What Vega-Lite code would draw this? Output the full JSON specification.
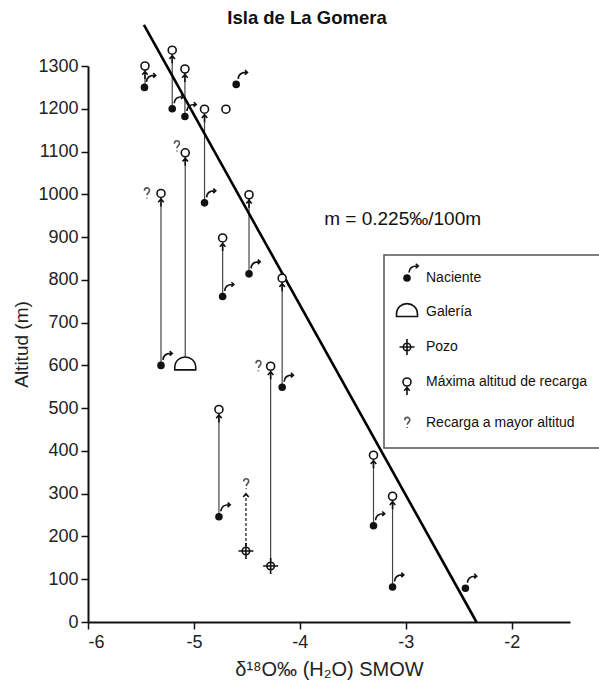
{
  "$schema": "https://vega.github.io/schema/vega-lite/v6.json",
  "autosize": {"type": "none"},
  "padding": {"left": 88, "top": 66, "right": 29, "bottom": 60},
  "width": 482,
  "height": 556,
  "title": {"text": "Isla de La Gomera", "fontSize": 18.5, "fontWeight": "bold", "font": "Liberation Sans", "color": "#111", "anchor": "middle", "dx": -22, "offset": -8},
  "datasets": {
    "puntos": [
      {"tipo": "Naciente", "d18O": -5.467, "altitud": 1250},
      {"tipo": "Naciente", "d18O": -5.205, "altitud": 1200},
      {"tipo": "Naciente", "d18O": -5.085, "altitud": 1182},
      {"tipo": "Naciente", "d18O": -4.601, "altitud": 1257},
      {"tipo": "Naciente", "d18O": -4.900, "altitud": 980},
      {"tipo": "Naciente", "d18O": -5.311, "altitud": 600},
      {"tipo": "Naciente", "d18O": -4.729, "altitud": 761},
      {"tipo": "Naciente", "d18O": -4.480, "altitud": 814},
      {"tipo": "Naciente", "d18O": -4.167, "altitud": 549},
      {"tipo": "Naciente", "d18O": -4.764, "altitud": 246},
      {"tipo": "Naciente", "d18O": -3.305, "altitud": 225},
      {"tipo": "Naciente", "d18O": -3.125, "altitud": 82},
      {"tipo": "Naciente", "d18O": -2.437, "altitud": 79},
      {"tipo": "Galería", "d18O": -5.082, "altitud": 600},
      {"tipo": "Pozo", "d18O": -4.509, "altitud": 166},
      {"tipo": "Pozo", "d18O": -4.276, "altitud": 131},
      {"tipo": "Máxima altitud de recarga", "d18O": -5.462, "altitud": 1300},
      {"tipo": "Máxima altitud de recarga", "d18O": -5.205, "altitud": 1337},
      {"tipo": "Máxima altitud de recarga", "d18O": -5.085, "altitud": 1293},
      {"tipo": "Máxima altitud de recarga", "d18O": -4.900, "altitud": 1199},
      {"tipo": "Máxima altitud de recarga", "d18O": -5.082, "altitud": 1097},
      {"tipo": "Máxima altitud de recarga", "d18O": -5.311, "altitud": 1002},
      {"tipo": "Máxima altitud de recarga", "d18O": -4.729, "altitud": 898},
      {"tipo": "Máxima altitud de recarga", "d18O": -4.480, "altitud": 999},
      {"tipo": "Máxima altitud de recarga", "d18O": -4.167, "altitud": 804},
      {"tipo": "Máxima altitud de recarga", "d18O": -4.276, "altitud": 598},
      {"tipo": "Máxima altitud de recarga", "d18O": -4.764, "altitud": 497},
      {"tipo": "Máxima altitud de recarga", "d18O": -3.305, "altitud": 390},
      {"tipo": "Máxima altitud de recarga", "d18O": -3.125, "altitud": 294},
      {"tipo": "Máxima (sin flecha)", "d18O": -4.698, "altitud": 1199},
      {"tipo": "Flecha", "d18O": -4.509, "altitud": 300},
      {"tipo": "Recarga a mayor altitud", "d18O": -5.446, "altitud": 1002},
      {"tipo": "Recarga a mayor altitud", "d18O": -5.163, "altitud": 1112},
      {"tipo": "Recarga a mayor altitud", "d18O": -4.393, "altitud": 598},
      {"tipo": "Recarga a mayor altitud", "d18O": -4.509, "altitud": 322}
    ],
    "flechas": [
      {"d18O": -5.462, "desde": 1250, "hasta": 1300},
      {"d18O": -5.205, "desde": 1200, "hasta": 1337},
      {"d18O": -5.085, "desde": 1182, "hasta": 1293},
      {"d18O": -4.900, "desde": 980, "hasta": 1199},
      {"d18O": -5.082, "desde": 600, "hasta": 1097},
      {"d18O": -5.311, "desde": 600, "hasta": 1002},
      {"d18O": -4.729, "desde": 761, "hasta": 898},
      {"d18O": -4.480, "desde": 814, "hasta": 999},
      {"d18O": -4.167, "desde": 549, "hasta": 804},
      {"d18O": -4.276, "desde": 131, "hasta": 598},
      {"d18O": -4.764, "desde": 246, "hasta": 497},
      {"d18O": -3.305, "desde": 225, "hasta": 390},
      {"d18O": -3.125, "desde": 82, "hasta": 294}
    ],
    "flechas_inciertas": [
      {"d18O": -4.509, "desde": 166, "hasta": 300}
    ],
    "recta": [
      {"d18O": -5.472, "altitud": 1396},
      {"d18O": -2.333, "altitud": 0}
    ],
    "anotacion": [
      {"d18O": -3.03, "altitud": 943, "texto": "m = 0.225‰/100m"}
    ]
  },
  "layer": [
    {
      "data": {"name": "flechas"},
      "mark": {"type": "rule", "color": "#444", "strokeWidth": 1.2},
      "encoding": {
        "x": {"field": "d18O", "type": "quantitative"},
        "y": {"field": "desde", "type": "quantitative"},
        "y2": {"field": "hasta"}
      }
    },
    {
      "data": {"name": "flechas_inciertas"},
      "mark": {"type": "rule", "color": "#333", "strokeWidth": 1.4, "strokeDash": [3, 2]},
      "encoding": {
        "x": {"field": "d18O", "type": "quantitative"},
        "y": {"field": "desde", "type": "quantitative"},
        "y2": {"field": "hasta"}
      }
    },
    {
      "data": {"name": "recta"},
      "mark": {"type": "line", "color": "black", "strokeWidth": 2.6, "clip": false},
      "encoding": {
        "x": {"field": "d18O", "type": "quantitative"},
        "y": {"field": "altitud", "type": "quantitative"}
      }
    },
    {
      "data": {"name": "puntos"},
      "mark": {"type": "point", "size": 100, "strokeWidth": 1.6, "opacity": 1, "clip": false},
      "encoding": {
        "x": {
          "field": "d18O", "type": "quantitative",
          "scale": {"domain": [-6, -1.45], "nice": false, "zero": false},
          "axis": {"values": [-6, -5, -4, -3, -2], "format": "d", "title": "δ¹⁸O‰ (H₂O) SMOW", "labelExpr": "replace(datum.label, '−', '-')", "titleFontSize": 20, "titlePadding": 8, "labelPadding": 4}
        },
        "y": {
          "field": "altitud", "type": "quantitative",
          "scale": {"domain": [0, 1300], "nice": false},
          "axis": {"values": [0, 100, 200, 300, 400, 500, 600, 700, 800, 900, 1000, 1100, 1200, 1300], "format": "d", "title": "Altitud (m)", "titlePadding": 6, "labelPadding": 3}
        },
        "shape": {
          "field": "tipo", "type": "nominal",
          "scale": {
            "domain": ["Naciente", "Galería", "Pozo", "Máxima altitud de recarga", "Recarga a mayor altitud", "Máxima (sin flecha)", "Flecha"],
            "range": [
              "M-0.6,0A0.6,0.6 0 1,0 0.6,0A0.6,0.6 0 1,0 -0.6,0Z M0.4,-1.1Q0.5,-2.5 2.2,-2.4Q0.5,-2.5 0.4,-1.1Z M1.75,-2.85L2.25,-2.4L1.75,-1.95L2.25,-2.4Z",
              "M-2.1,0.9L2.1,0.9L2.1,0.5C2.1,-2.4 -2.1,-2.4 -2.1,0.5Z",
              "M-0.75,0A0.75,0.75 0 1,0 0.75,0A0.75,0.75 0 1,0 -0.75,0Z M-1.5,0L1.5,0 M0,-1.6L0,1.6",
              "M-0.8,0A0.8,0.8 0 1,0 0.8,0A0.8,0.8 0 1,0 -0.8,0Z M-0.55,1.75L0,1.1L0.55,1.75 M0,1.1L0,2.6",
              "M-0.45,-0.55C-0.45,-1.3 0.55,-1.3 0.55,-0.6C0.55,-0.15 0.05,-0.1 0.05,0.35 M0.05,0.8L0.05,1.0",
              "M-0.8,0A0.8,0.8 0 1,0 0.8,0A0.8,0.8 0 1,0 -0.8,0Z",
              "M-0.55,0.65L0,0L0.55,0.65L0,0Z"
            ]
          },
          "legend": {"title": null, "values": ["Naciente", "Galería", "Pozo", "Máxima altitud de recarga", "Recarga a mayor altitud"]}
        },
        "fill": {
          "field": "tipo", "type": "nominal",
          "scale": {
            "domain": ["Naciente", "Galería", "Pozo", "Máxima altitud de recarga", "Recarga a mayor altitud", "Máxima (sin flecha)", "Flecha"],
            "range": ["#111111", "#ffffff", "#ffffff", "#ffffff", "transparent", "#ffffff", "#ffffff"]
          },
          "legend": {"title": null, "values": ["Naciente", "Galería", "Pozo", "Máxima altitud de recarga", "Recarga a mayor altitud"]}
        },
        "stroke": {
          "field": "tipo", "type": "nominal",
          "scale": {
            "domain": ["Naciente", "Galería", "Pozo", "Máxima altitud de recarga", "Recarga a mayor altitud", "Máxima (sin flecha)", "Flecha"],
            "range": ["#111111", "#111111", "#111111", "#111111", "#555555", "#111111", "#111111"]
          },
          "legend": {"title": null, "values": ["Naciente", "Galería", "Pozo", "Máxima altitud de recarga", "Recarga a mayor altitud"]}
        }
      }
    },
    {
      "data": {"name": "anotacion"},
      "mark": {"type": "text", "fontSize": 19, "font": "Liberation Sans", "color": "#111", "align": "center", "baseline": "middle"},
      "encoding": {
        "x": {"field": "d18O", "type": "quantitative"},
        "y": {"field": "altitud", "type": "quantitative"},
        "text": {"field": "texto"}
      }
    }
  ],
  "config": {
    "view": {"stroke": null},
    "font": "Liberation Sans",
    "axis": {
      "domainColor": "#111", "domainWidth": 2, "tickColor": "#111", "tickWidth": 1.5, "tickSize": 7,
      "labelFontSize": 18, "labelColor": "#222", "labelFont": "Liberation Sans",
      "titleFontSize": 19, "titleFontWeight": "normal", "titleColor": "#222", "titleFont": "Liberation Sans",
      "grid": false
    },
    "legend": {
      "orient": "none", "legendX": 296, "legendY": 189,
      "strokeColor": "#555", "strokeWidth": 1.5, "fillColor": "white", "padding": 16,
      "labelFontSize": 14, "labelFont": "Liberation Sans", "labelColor": "#111",
      "symbolSize": 100, "symbolStrokeWidth": 1.6, "rowPadding": 15, "labelOffset": 12, "labelLimit": 300
    }
  }
}
